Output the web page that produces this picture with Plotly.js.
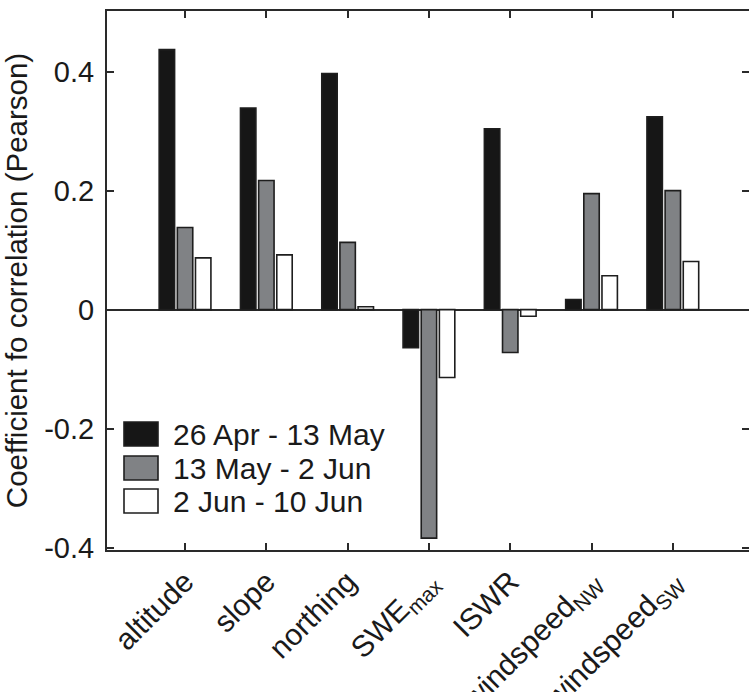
<!DOCTYPE html>
<html>
<head>
<meta charset="utf-8">
<script src="https://cdn.plot.ly/plotly-3.0.1.min.js"></script>
<style>html,body{margin:0;padding:0;background:#fff;overflow:hidden}</style>
</head>
<body>
<div id="chart" style="width:749px;height:692px"></div>
<script>
var categories = ["altitude", "slope", "northing", "SWE<sub>max</sub>", "ISWR", "windspeed<sub>NW</sub>", "windspeed<sub>SW</sub>"];
var seriesNames = ["26 Apr - 13 May", "13 May - 2 Jun", "2 Jun - 10 Jun"];
var period1 = [0.437, 0.339, 0.397, -0.064, 0.304, 0.017, 0.324];
var period2 = [0.138, 0.217, 0.113, -0.384, -0.072, 0.195, 0.200];
var period3 = [0.087, 0.092, 0.005, -0.114, -0.011, 0.057, 0.081];
var yTickVals = [-0.4, -0.2, 0, 0.2, 0.4];
var yTickText = ["-0.4", "-0.2", "0", "0.2", "0.4"];

var fills = ["#161616", "#808285", "#ffffff"];
var lineCol = "#1e1e1e";
var font = "Liberation Sans, Arial, sans-serif";
var xIdx = categories.map(function(_, i){ return i; });

var allSeries = [period1, period2, period3];
var traces = allSeries.map(function(vals, k){
  return {
    type: "bar",
    x: xIdx,
    y: vals,
    name: seriesNames[k],
    marker: {color: fills[k], line: {color: lineCol, width: 1.6}},
    hoverinfo: "skip"
  };
});

// plot-area pixel frame
var L = 107, R = 749, T = 11, B = 550;
function px(x){ return (x - L) / (R - L); }
function py(y){ return (B - y) / (B - T); }

var shapes = [], annotations = [];
var boxTop = [422, 456, 489];
for (var k = 0; k < 3; k++) {
  shapes.push({type: "rect", xref: "paper", yref: "paper",
    x0: px(124), x1: px(158), y0: py(boxTop[k] + 24), y1: py(boxTop[k]),
    fillcolor: fills[k], line: {color: lineCol, width: 1.6}});
  annotations.push({xref: "paper", yref: "paper", x: px(171), y: py(boxTop[k] + 12),
    xanchor: "left", yanchor: "middle", showarrow: false,
    text: seriesNames[k], font: {family: font, size: 30, color: "#1a1a1a"}});
}

var layout = {
  width: 749, height: 692,
  margin: {l: L, r: 749 - R, t: T, b: 692 - B, pad: 0},
  paper_bgcolor: "#fff", plot_bgcolor: "#fff",
  showlegend: false,
  barmode: "group", bargap: 0.33, bargroupgap: 0.15,
  font: {family: font, color: "#1a1a1a"},
  xaxis: {
    range: [-0.96, 6.937], tickmode: "array", tickvals: xIdx, ticktext: categories,
    tickangle: -45, ticks: "inside", ticklen: 7, tickwidth: 2, tickcolor: "#2a2a2a",
    showline: true, linecolor: "#2a2a2a", linewidth: 2, mirror: "ticks",
    showgrid: false, zeroline: false, ticklabelstandoff: 0,
    tickfont: {family: font, size: 30, color: "#1a1a1a"}
  },
  yaxis: {
    range: [-0.404, 0.502], tickmode: "array", tickvals: yTickVals, ticktext: yTickText,
    ticks: "inside", ticklen: 7, tickwidth: 2, tickcolor: "#2a2a2a",
    showline: true, linecolor: "#2a2a2a", linewidth: 2, mirror: "ticks",
    showgrid: false, zeroline: true, zerolinecolor: "#2a2a2a", zerolinewidth: 2,
    ticklabelstandoff: 5,
    tickfont: {family: font, size: 29, color: "#1a1a1a"},
    title: {text: "Coefficient fo correlation (Pearson)", standoff: 10,
            font: {family: font, size: 29.5, color: "#1a1a1a"}}
  },
  shapes: shapes,
  annotations: annotations
};

Plotly.newPlot("chart", traces, layout, {staticPlot: true, displayModeBar: false});
</script>
</body>
</html>
